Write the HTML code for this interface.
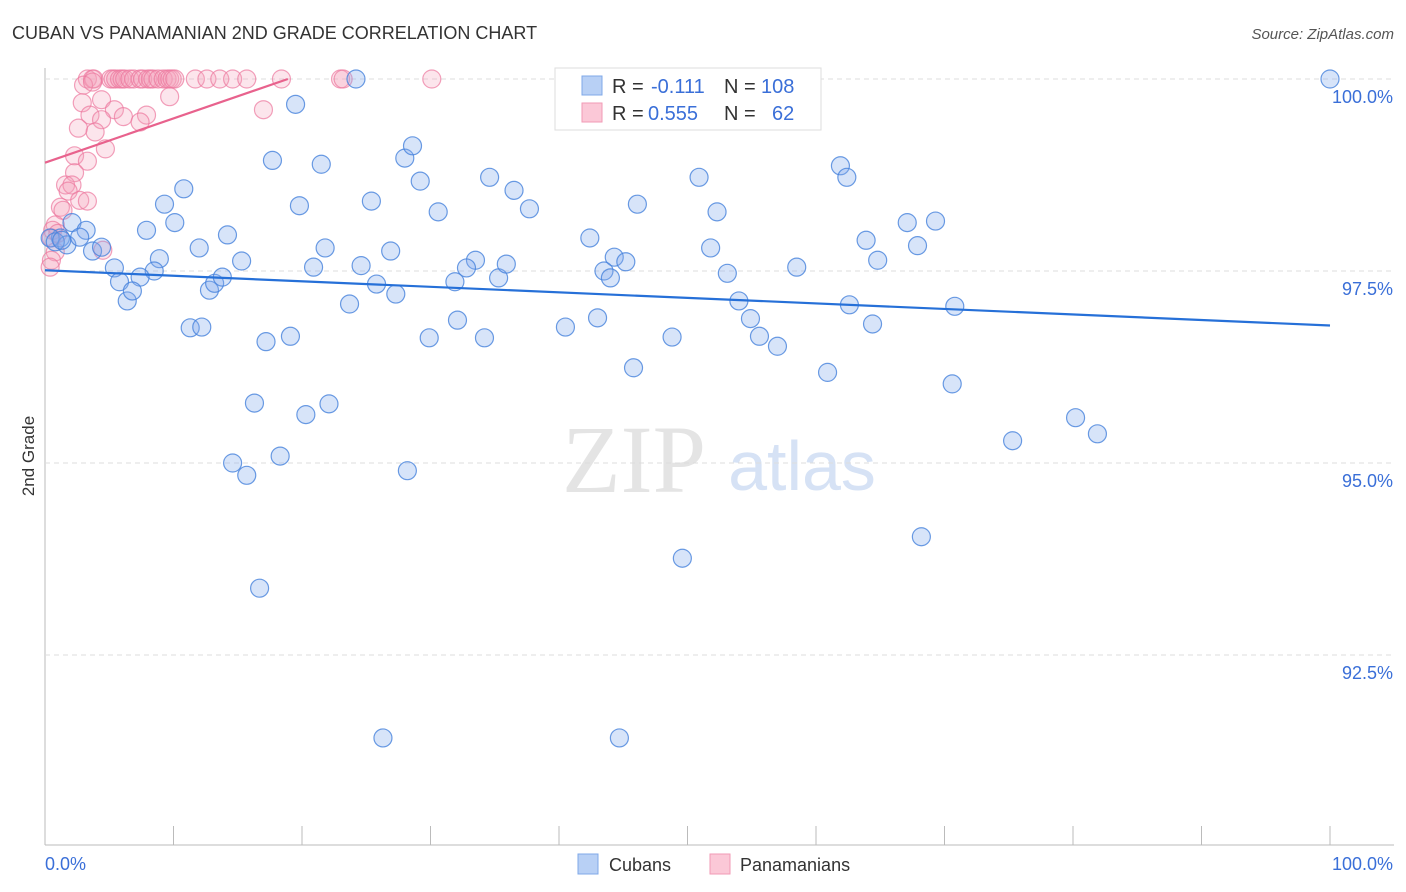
<!DOCTYPE html>
<html><head><meta charset="utf-8"><style>
body{margin:0;background:#fff;font-family:"Liberation Sans",sans-serif}
svg{display:block}
</style></head><body>
<svg id="c" width="1406" height="892" viewBox="0 0 1406 892">
<text x="12" y="39" font-size="18" fill="#333">CUBAN VS PANAMANIAN 2ND GRADE CORRELATION CHART</text>
<text x="1394" y="39" font-size="15" fill="#555" font-style="italic" text-anchor="end">Source: ZipAtlas.com</text>
<text x="634" y="492" font-size="96" fill="#e4e4e4" font-family="Liberation Serif" text-anchor="middle">ZIP</text>
<text x="802" y="490" font-size="70" fill="#d6e2f5" text-anchor="middle">atlas</text>
<text x="34" y="456" font-size="17" fill="#333" text-anchor="middle" transform="rotate(-90 34 456)">2nd Grade</text>
<g id="grid"></g><g id="marks"></g>
<text x="45" y="870" font-size="18" fill="#3a6fd8">0.0%</text>
<text x="1393" y="870" font-size="18" fill="#3a6fd8" text-anchor="end">100.0%</text>
<g>
<rect x="578" y="854" width="20" height="20" fill="#b8d0f5" stroke="#7fa8e8"/>
<text x="609" y="871" font-size="18" fill="#333">Cubans</text>
<rect x="710" y="854" width="20" height="20" fill="#fbc8d7" stroke="#f29ab5"/>
<text x="740" y="871" font-size="18" fill="#333">Panamanians</text>
</g>
<g>
<rect x="555" y="68" width="266" height="62" fill="#fff" stroke="#ddd"/>
<rect x="582" y="76" width="20" height="19" fill="#b8d0f5" stroke="#7fa8e8"/>
<rect x="582" y="103" width="20" height="19" fill="#fbc8d7" stroke="#f29ab5"/>
<text y="93" font-size="20"><tspan x="612" fill="#333">R = </tspan><tspan x="651" fill="#3a6fd8">-0.111</tspan><tspan x="724" fill="#333">N = </tspan><tspan x="761" fill="#3a6fd8">108</tspan></text>
<text y="120" font-size="20"><tspan x="612" fill="#333">R = </tspan><tspan x="648" fill="#3a6fd8">0.555</tspan><tspan x="724" fill="#333">N = </tspan><tspan x="772" fill="#3a6fd8">62</tspan></text>
</g>
</svg>
<script>
const yTicks=[100,97.5,95,92.5];
const yTickLabels=["100.0%","97.5%","95.0%","92.5%"];
const xTicks=[0,10,20,30,40,50,60,70,80,90,100];
const cubanX=[100,24.2,19.5,17.7,21.5,28.0,28.6,29.2,34.6,36.5,30.6,25.4,19.8,37.7,10.8,9.3,10.1,7.9,14.2,12.0,15.3,8.9,8.5,5.4,7.4,5.8,6.4,6.8,12.8,13.2,13.8,11.3,12.2,17.2,19.1,16.3,20.3,22.1,14.6,15.7,18.3,16.7,20.9,21.8,24.6,25.8,27.3,23.7,26.9,33.5,32.8,31.9,35.3,35.9,32.1,29.9,34.2,28.2,26.3,42.4,44.3,45.2,43.5,44.0,40.5,43.0,45.8,48.8,46.1,50.9,52.3,51.8,53.1,54.0,54.9,55.6,57.0,58.5,60.9,62.6,64.4,61.9,62.4,63.9,64.8,67.1,69.3,67.9,70.8,70.6,75.3,80.2,81.9,68.2,49.6,44.7,2.1,3.2,1.2,1.7,3.7,4.4,2.7,0.4,0.8,1.3];
const cubanY=[100,100,99.67,98.94,98.89,98.97,99.13,98.67,98.72,98.55,98.27,98.41,98.35,98.31,98.57,98.37,98.13,98.03,97.97,97.80,97.63,97.66,97.50,97.54,97.42,97.36,97.11,97.24,97.25,97.34,97.42,96.76,96.77,96.58,96.65,95.78,95.63,95.77,95.00,94.84,95.09,93.37,97.55,97.80,97.57,97.33,97.20,97.07,97.76,97.64,97.54,97.36,97.41,97.59,96.86,96.63,96.63,94.90,91.42,97.93,97.68,97.62,97.50,97.41,96.77,96.89,96.24,96.64,98.37,98.72,98.27,97.80,97.47,97.11,96.88,96.65,96.52,97.55,96.18,97.06,96.81,98.87,98.72,97.90,97.64,98.13,98.15,97.83,97.04,96.03,95.29,95.59,95.38,94.04,93.76,91.42,98.13,98.03,97.93,97.84,97.76,97.81,97.94,97.93,97.88,97.90];
const panX=[3.3,3.7,3.8,5.1,5.3,5.5,5.8,6.0,6.2,6.6,6.9,7.4,7.6,8.0,8.2,8.4,8.8,9.2,9.5,9.7,9.9,10.1,11.7,12.6,13.6,14.6,15.7,18.4,23.0,23.2,30.1,9.7,17.0,3.0,3.7,2.9,4.4,5.4,3.5,4.4,6.1,7.9,7.4,2.6,3.9,4.7,2.3,3.3,2.3,1.6,2.1,1.8,2.7,3.3,1.2,1.4,0.8,0.6,1.0,0.5,0.8,0.5,0.4,4.5];
const panY=[100,100,100,100,100,100,100,100,100,100,100,100,100,100,100,100,100,100,100,100,100,100,100,100,100,100,100,100,100,100,100,99.77,99.60,99.92,99.96,99.69,99.73,99.60,99.53,99.47,99.51,99.53,99.44,99.36,99.31,99.09,99.00,98.93,98.78,98.62,98.62,98.54,98.42,98.41,98.33,98.29,98.10,98.03,97.99,97.93,97.75,97.64,97.55,97.77];
const cubanTrendX=[0,100], cubanTrendY=[97.51,96.79];
const panTrendX=[0,18.9], panTrendY=[98.91,100];

const NS="http://www.w3.org/2000/svg";
const X0=45,X1=1330,Y100=79,PXPER=76.8;
function sx(v){return X0+(X1-X0)*v/100;}
function sy(v){return Y100+(100-v)*PXPER;}
function mk(tag,attrs,parent){const e=document.createElementNS(NS,tag);for(const k in attrs)e.setAttribute(k,attrs[k]);parent.appendChild(e);return e;}
const grid=document.getElementById('grid'), marks=document.getElementById('marks');
let ax=mk('line',{x1:45,y1:68,x2:45,y2:845,stroke:'#bbb'},grid);


let bx=mk('line',{x1:45,y1:845,x2:1394,y2:845,stroke:'#bbb'},grid);


yTicks.forEach((t,i)=>{
  const g=mk('line',{x1:45,x2:1394,y1:sy(t),y2:sy(t),stroke:'#ddd','stroke-dasharray':'5,4'},grid);
  
  
  const l=mk('text',{x:1393,y:sy(t)+24,'font-size':18,fill:'#3a6fd8','text-anchor':'end'},grid);
  l.textContent=yTickLabels[i];
  
  
});
xTicks.forEach(t=>{
  const k=mk('line',{x1:sx(t),x2:sx(t),y1:826,y2:845,stroke:'#bbb'},grid);
  
  
});
panX.forEach((v,i)=>{
  const c=mk('circle',{cx:sx(v),cy:sy(panY[i]),r:9,fill:'rgba(246,160,188,0.28)',stroke:'rgba(236,120,158,0.7)','stroke-width':1.2},marks);
  
  
});
cubanX.forEach((v,i)=>{
  const c=mk('circle',{cx:sx(v),cy:sy(cubanY[i]),r:9,fill:'rgba(130,172,235,0.32)',stroke:'rgba(70,130,220,0.8)','stroke-width':1.2},marks);
  
  
});
const tb=mk('line',{x1:sx(cubanTrendX[0]),y1:sy(cubanTrendY[0]),x2:sx(cubanTrendX[1]),y2:sy(cubanTrendY[1]),stroke:'#2670d8','stroke-width':2.2},marks);


const tp=mk('line',{x1:sx(panTrendX[0]),y1:sy(panTrendY[0]),x2:sx(panTrendX[1]),y2:sy(panTrendY[1]),stroke:'#e8628d','stroke-width':2.2},marks);


</script>
</body></html>
